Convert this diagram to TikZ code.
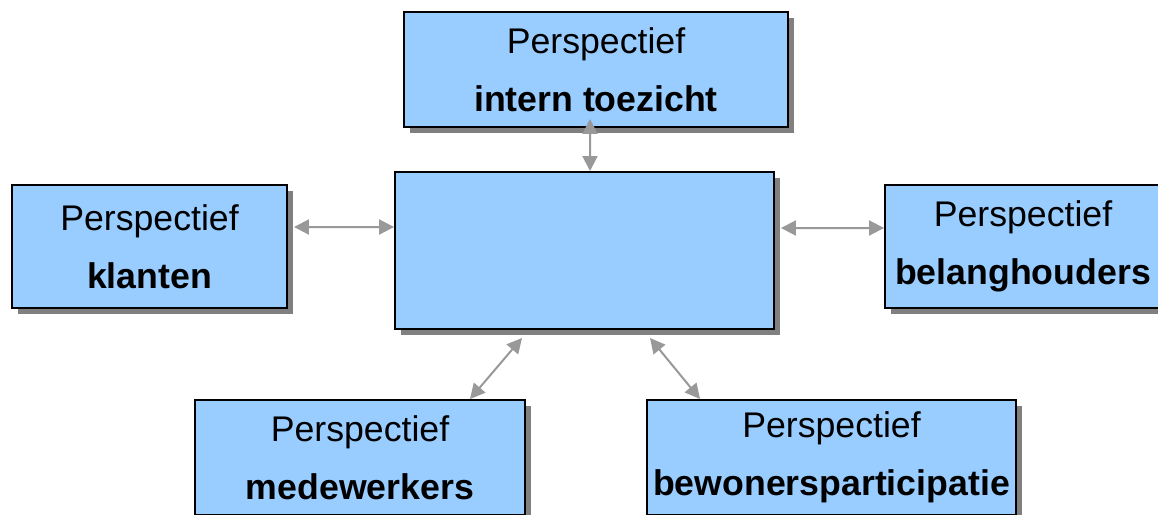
\documentclass[tikz,border=0pt]{standalone}
\usepackage{fontspec}
\setmainfont{Liberation Sans}
\usetikzlibrary{arrows.meta,shadows}
\definecolor{boxblue}{HTML}{99CCFF}
\definecolor{linegray}{HTML}{999999}
\begin{document}
\begin{tikzpicture}[x=0.02cm, y=-0.02cm,
		box/.style={draw=black, line width=0.04cm, fill=boxblue, align=center, inner sep=0pt,
			font=\fontsize{20.3}{33}\selectfont,
			drop shadow={shadow xshift=0.12cm, shadow yshift=-0.12cm, fill=black!50, opacity=1}},
		link/.style={draw=linegray, line width=0.04cm,
			{Triangle[length=0.3cm,width=0.3cm]}-{Triangle[length=0.3cm,width=0.3cm]}}]
				\clip (0,0) rectangle (1158,514);
				\fill[white] (0,0) rectangle (1158,514);
				
				\node (toezicht) [box, minimum width=7.68cm, minimum height=2.3cm] at (596,69.5) {Perspectief\\\textbf{intern toezicht}};
				\node (mid) [box, minimum width=7.58cm, minimum height=3.14cm] at (584.5,250.5) {};
				\node (klanten) [box, minimum width=5.5cm, minimum height=2.46cm] at (149.5,246.5) {Perspectief\\\textbf{klanten}};
				\node (belang) [box, minimum width=5.52cm, minimum height=2.46cm] at (1023,246.5) {Perspectief\\\textbf{belanghouders}};
				\node (medewerkers) [box, minimum width=6.62cm, minimum height=2.3cm] at (360,457.5) {Perspectief\\\textbf{medewerkers}};
				\node (bewoners) [box, minimum width=7.4cm, minimum height=2.3cm] at (831.5,457.5) {Perspectief\\\textbf{bewonersparticipatie}};
				
				\draw[link] ([xshift=-0.12cm, yshift=0.18cm]toezicht.south) -- ([xshift=0.11cm]mid.north);
				\draw[link] ([xshift=0.12cm, yshift=0.39cm]klanten.east) -- ([yshift=0.47cm]mid.west);
				\draw[link] ([xshift=0.12cm, yshift=0.45cm]mid.east) -- ([yshift=0.37cm]belang.west);
				\draw[link] ([xshift=-1.25cm, yshift=-0.16cm]mid.south) -- ([xshift=2.2cm]medewerkers.north);
				\draw[link] ([xshift=1.31cm, yshift=-0.16cm]mid.south) -- ([xshift=-2.63cm]bewoners.north);
			\end{tikzpicture}
\end{document}
